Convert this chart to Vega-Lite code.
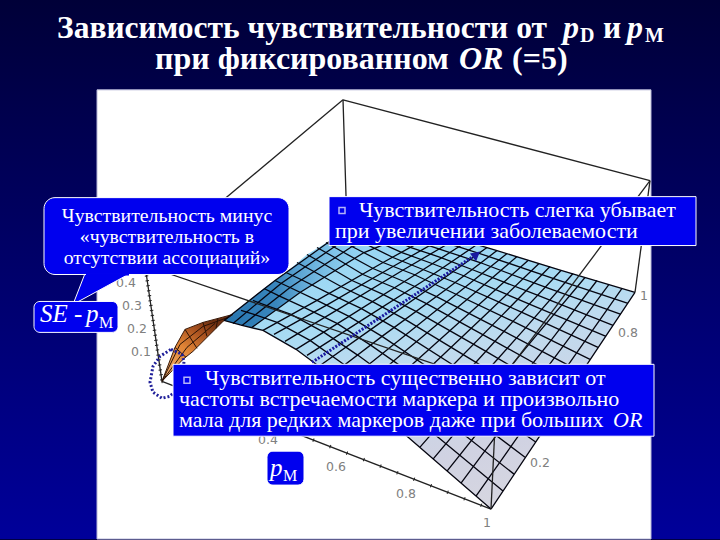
{"$schema":"https://vega.github.io/schema/vega-lite/v6.json","width":720,"height":540,"padding":0,"autosize":{"type":"fit","contains":"padding"},"background":"#000044","view":{"stroke":null},
"encoding":{"x":{"field":"x","type":"quantitative","scale":{"domain":[0,720],"nice":false,"zero":false},"axis":null},"y":{"field":"y","type":"quantitative","scale":{"domain":[540,0],"nice":false,"zero":false},"axis":null}},
"layer":[
{"data":{"values":[{"x":0,"x2":720,"y":0,"y2":540}]},"mark":{"type":"rect","fill":{"gradient":"linear","x1":0,"y1":0,"x2":0,"y2":1,"stops":[{"offset":0,"color":"#000038"},{"offset":0.5,"color":"#00006a"},{"offset":1,"color":"#00009a"}]}},"encoding":{"x2":{"field":"x2"},"y2":{"field":"y2"}}},
{"data":{"values":[{"x":97,"x2":651,"y":90,"y2":540}]},"mark":{"type":"rect","fill":"#ffffff","stroke":"#b8b8d8","strokeWidth":1},"encoding":{"x2":{"field":"x2"},"y2":{"field":"y2"}}},
{"data":{"values":[{"x":343,"y":100,"x2":348,"y2":260},{"x":343,"y":100,"x2":650,"y2":181},{"x":343,"y":100,"x2":145,"y2":266},{"x":145,"y":266,"x2":162,"y2":382},{"x":650,"y":181,"x2":635,"y2":293},{"x":162,"y":382,"x2":491,"y2":510}]},"mark":{"type":"rule","stroke":"#222222","strokeWidth":1.3},"encoding":{"x2":{"field":"x2"},"y2":{"field":"y2"}}},
{"data":{"values":[{"x":145,"y":266,"x2":162,"y2":382}]},"mark":{"type":"rule","stroke":"#222222","strokeWidth":3.5,"strokeDash":[1,4]},"encoding":{"x2":{"field":"x2"},"y2":{"field":"y2"}}},
{"data":{"values":[{"x":162,"y":382,"x2":491,"y2":510}]},"mark":{"type":"rule","stroke":"#222222","strokeWidth":3.5,"strokeDash":[1,17]},"encoding":{"x2":{"field":"x2"},"y2":{"field":"y2"}}},
{"data":{"values":[{"x":491,"y":510},{"x":407,"y":437},{"x":331,"y":376},{"x":296,"y":350},{"x":263,"y":331},{"x":242,"y":326},{"x":224,"y":321},{"x":241,"y":311},{"x":253,"y":301},{"x":264,"y":289},{"x":286,"y":273},{"x":307,"y":255},{"x":335,"y":238},{"x":366,"y":228},{"x":401,"y":222},{"x":497,"y":251},{"x":635,"y":293},{"x":491,"y":510}]},"mark":{"type":"line","filled":true,"stroke":null,"fill":{"gradient":"linear","x1":0.3,"y1":0.1,"x2":0.6,"y2":1,"stops":[{"offset":0,"color":"#98d6f4"},{"offset":0.25,"color":"#a8dbf3"},{"offset":0.42,"color":"#bedbef"},{"offset":0.6,"color":"#cad6e8"},{"offset":0.8,"color":"#d0d2e2"},{"offset":1,"color":"#d6d6e0"}]}},"encoding":{"order":{"value":null}}},
{"data":{"values":[{"x":224,"y":321},{"x":252,"y":328},{"x":300,"y":293},{"x":364,"y":253},{"x":423,"y":229},{"x":401,"y":222},{"x":335,"y":238},{"x":264,"y":289},{"x":224,"y":321}]},"mark":{"type":"line","filled":true,"stroke":null,"fill":{"gradient":"linear","x1":0,"y1":0.5,"x2":0.75,"y2":0.5,"stops":[{"offset":0,"color":"rgba(30,110,170,0.95)"},{"offset":0.35,"color":"rgba(40,120,180,0.85)"},{"offset":1,"color":"rgba(110,190,235,0)"}]}},"encoding":{"order":{"value":null}}},
{"data":{"values":[{"x":162,"y":382},{"x":175,"y":348},{"x":185,"y":330},{"x":203,"y":323},{"x":233,"y":315},{"x":223,"y":322},{"x":193,"y":352},{"x":183,"y":360},{"x":162,"y":382}]},"mark":{"type":"line","filled":true,"stroke":"#3a1a08","strokeWidth":1,"fill":{"gradient":"linear","x1":0.1,"y1":1,"x2":0.7,"y2":0.1,"stops":[{"offset":0,"color":"#f4b070"},{"offset":0.5,"color":"#e08436"},{"offset":0.78,"color":"#a9521f"},{"offset":1,"color":"#6e2f10"}]}},"encoding":{"order":{"value":null}}},
{"data":{"values":[{"l":"a","x":162,"y":382},{"l":"a","x":180,"y":345},{"l":"a","x":203,"y":327},{"l":"a","x":228,"y":318},{"l":"b","x":162,"y":382},{"l":"b","x":187,"y":348},{"l":"b","x":215,"y":324},{"l":"c","x":175,"y":348},{"l":"c","x":186,"y":358},{"l":"e","x":185,"y":330},{"l":"e","x":197,"y":349},{"l":"f","x":203,"y":323},{"l":"f","x":207,"y":337},{"l":"g","x":218,"y":319},{"l":"g","x":216,"y":329}]},"mark":{"type":"line","stroke":"#2a1206","strokeWidth":1},"encoding":{"detail":{"field":"l"},"order":{"value":null}}},
{"data":{"values":[
{"l":"d0","x":491,"y":510},{"l":"d0","x":407,"y":437},{"l":"d0","x":331,"y":376},{"l":"d0","x":296,"y":350},{"l":"d0","x":263,"y":331},{"l":"d0","x":242,"y":326},{"l":"d0","x":224,"y":321},
{"l":"d1","x":503,"y":492},{"l":"d1","x":420,"y":423},{"l":"d1","x":345,"y":366},{"l":"d1","x":310,"y":341},{"l":"d1","x":277,"y":323},{"l":"d1","x":254,"y":315},{"l":"d1","x":241,"y":311},
{"l":"d2","x":514,"y":475},{"l":"d2","x":432,"y":410},{"l":"d2","x":358,"y":356},{"l":"d2","x":324,"y":333},{"l":"d2","x":291,"y":315},{"l":"d2","x":266,"y":306},{"l":"d2","x":253,"y":301},
{"l":"d3","x":525,"y":458},{"l":"d3","x":444,"y":397},{"l":"d3","x":371,"y":346},{"l":"d3","x":337,"y":324},{"l":"d3","x":304,"y":308},{"l":"d3","x":278,"y":296},{"l":"d3","x":264,"y":289},
{"l":"d4","x":536,"y":443},{"l":"d4","x":455,"y":386},{"l":"d4","x":382,"y":337},{"l":"d4","x":349,"y":317},{"l":"d4","x":317,"y":301},{"l":"d4","x":290,"y":288},{"l":"d4","x":275,"y":281},
{"l":"d5","x":546,"y":428},{"l":"d5","x":466,"y":374},{"l":"d5","x":394,"y":328},{"l":"d5","x":361,"y":309},{"l":"d5","x":329,"y":294},{"l":"d5","x":301,"y":280},{"l":"d5","x":286,"y":273},
{"l":"d6","x":555,"y":413},{"l":"d6","x":476,"y":363},{"l":"d6","x":405,"y":320},{"l":"d6","x":372,"y":302},{"l":"d6","x":341,"y":287},{"l":"d6","x":312,"y":271},{"l":"d6","x":297,"y":263},
{"l":"d7","x":565,"y":399},{"l":"d7","x":486,"y":352},{"l":"d7","x":416,"y":312},{"l":"d7","x":383,"y":295},{"l":"d7","x":352,"y":281},{"l":"d7","x":323,"y":264},{"l":"d7","x":307,"y":255},
{"l":"d8","x":574,"y":386},{"l":"d8","x":495,"y":342},{"l":"d8","x":426,"y":304},{"l":"d8","x":394,"y":288},{"l":"d8","x":363,"y":275},{"l":"d8","x":333,"y":257},{"l":"d8","x":317,"y":248},
{"l":"d9","x":582,"y":373},{"l":"d9","x":504,"y":332},{"l":"d9","x":436,"y":297},{"l":"d9","x":404,"y":282},{"l":"d9","x":373,"y":269},{"l":"d9","x":342,"y":252},{"l":"d9","x":326,"y":243},
{"l":"d10","x":590,"y":360},{"l":"d10","x":513,"y":322},{"l":"d10","x":446,"y":290},{"l":"d10","x":414,"y":275},{"l":"d10","x":383,"y":263},{"l":"d10","x":352,"y":247},{"l":"d10","x":335,"y":238},
{"l":"d11","x":598,"y":348},{"l":"d11","x":522,"y":313},{"l":"d11","x":455,"y":283},{"l":"d11","x":423,"y":270},{"l":"d11","x":393,"y":258},{"l":"d11","x":361,"y":242},{"l":"d11","x":344,"y":234},
{"l":"d12","x":606,"y":337},{"l":"d12","x":530,"y":305},{"l":"d12","x":463,"y":276},{"l":"d12","x":432,"y":264},{"l":"d12","x":402,"y":253},{"l":"d12","x":371,"y":239},{"l":"d12","x":355,"y":231},
{"l":"d13","x":613,"y":326},{"l":"d13","x":538,"y":296},{"l":"d13","x":472,"y":270},{"l":"d13","x":441,"y":258},{"l":"d13","x":411,"y":248},{"l":"d13","x":382,"y":235},{"l":"d13","x":366,"y":228},
{"l":"d14","x":621,"y":315},{"l":"d14","x":546,"y":288},{"l":"d14","x":480,"y":263},{"l":"d14","x":450,"y":253},{"l":"d14","x":420,"y":243},{"l":"d14","x":392,"y":232},{"l":"d14","x":377,"y":226},
{"l":"d15","x":628,"y":304},{"l":"d15","x":553,"y":279},{"l":"d15","x":489,"y":257},{"l":"d15","x":458,"y":247},{"l":"d15","x":428,"y":238},{"l":"d15","x":403,"y":229},{"l":"d15","x":389,"y":224},
{"l":"d16","x":635,"y":293},{"l":"d16","x":561,"y":271},{"l":"d16","x":497,"y":251},{"l":"d16","x":467,"y":242},{"l":"d16","x":437,"y":233},{"l":"d16","x":414,"y":226},{"l":"d16","x":401,"y":222},
{"l":"c0","x":491,"y":510},{"l":"c0","x":537,"y":441},{"l":"c0","x":591,"y":359},{"l":"c0","x":635,"y":293},
{"l":"c1","x":476,"y":497},{"l":"c1","x":521,"y":433},{"l":"c1","x":577,"y":353},{"l":"c1","x":622,"y":289},
{"l":"c2","x":461,"y":484},{"l":"c2","x":507,"y":422},{"l":"c2","x":563,"y":347},{"l":"c2","x":609,"y":285},
{"l":"c3","x":447,"y":472},{"l":"c3","x":494,"y":413},{"l":"c3","x":551,"y":341},{"l":"c3","x":597,"y":281},
{"l":"c4","x":433,"y":460},{"l":"c4","x":480,"y":404},{"l":"c4","x":538,"y":334},{"l":"c4","x":585,"y":278},
{"l":"c5","x":420,"y":448},{"l":"c5","x":467,"y":394},{"l":"c5","x":526,"y":328},{"l":"c5","x":573,"y":274},
{"l":"c6","x":407,"y":437},{"l":"c6","x":455,"y":386},{"l":"c6","x":513,"y":322},{"l":"c6","x":561,"y":271},
{"l":"c7","x":394,"y":426},{"l":"c7","x":442,"y":377},{"l":"c7","x":502,"y":316},{"l":"c7","x":550,"y":267},
{"l":"c8","x":381,"y":415},{"l":"c8","x":430,"y":368},{"l":"c8","x":490,"y":311},{"l":"c8","x":539,"y":264},
{"l":"c9","x":368,"y":405},{"l":"c9","x":418,"y":360},{"l":"c9","x":478,"y":306},{"l":"c9","x":528,"y":261},
{"l":"c10","x":355,"y":395},{"l":"c10","x":405,"y":352},{"l":"c10","x":467,"y":300},{"l":"c10","x":517,"y":257},
{"l":"c11","x":343,"y":386},{"l":"c11","x":394,"y":345},{"l":"c11","x":456,"y":295},{"l":"c11","x":507,"y":254},
{"l":"c12","x":331,"y":376},{"l":"c12","x":382,"y":337},{"l":"c12","x":446,"y":290},{"l":"c12","x":497,"y":251},
{"l":"c13","x":319,"y":367},{"l":"c13","x":371,"y":330},{"l":"c13","x":435,"y":285},{"l":"c13","x":487,"y":248},
{"l":"c14","x":307,"y":356},{"l":"c14","x":360,"y":322},{"l":"c14","x":424,"y":281},{"l":"c14","x":477,"y":245},
{"l":"c15","x":296,"y":350},{"l":"c15","x":349,"y":317},{"l":"c15","x":414,"y":276},{"l":"c15","x":467,"y":242},
{"l":"c16","x":285,"y":342},{"l":"c16","x":338,"y":310},{"l":"c16","x":404,"y":270},{"l":"c16","x":457,"y":239},
{"l":"c17","x":274,"y":335},{"l":"c17","x":328,"y":305},{"l":"c17","x":393,"y":267},{"l":"c17","x":447,"y":236},
{"l":"c18","x":263,"y":331},{"l":"c18","x":317,"y":301},{"l":"c18","x":383,"y":263},{"l":"c18","x":437,"y":233},
{"l":"c19","x":252,"y":328},{"l":"c19","x":300,"y":293},{"l":"c19","x":364,"y":253},{"l":"c19","x":423,"y":229},
{"l":"c20","x":242,"y":326},{"l":"c20","x":290,"y":288},{"l":"c20","x":352,"y":247},{"l":"c20","x":414,"y":226},
{"l":"c21","x":233,"y":324},{"l":"c21","x":281,"y":284},{"l":"c21","x":342,"y":242},{"l":"c21","x":406,"y":224},
{"l":"c22","x":224,"y":321},{"l":"c22","x":275,"y":281},{"l":"c22","x":335,"y":238},{"l":"c22","x":401,"y":222}
]},"mark":{"type":"line","stroke":"#050510","strokeWidth":1.3},"encoding":{"detail":{"field":"l"},"order":{"value":null}}},
{"data":{"values":[{"x":145,"y":266,"x2":497,"y2":386},{"x":650,"y":181,"x2":497,"y2":386},{"x":497,"y":386,"x2":491,"y2":510}]},"mark":{"type":"rule","stroke":"#222222","strokeWidth":1.3},"encoding":{"x2":{"field":"x2"},"y2":{"field":"y2"}}},
{"data":{"values":[{"x":126,"y":284,"t":"0.4"},{"x":132,"y":307,"t":"0.3"},{"x":137,"y":330,"t":"0.2"},{"x":141,"y":353,"t":"0.1"},{"x":268,"y":441,"t":"0.4"},{"x":336,"y":468,"t":"0.6"},{"x":406,"y":495,"t":"0.8"},{"x":487,"y":524,"t":"1"},{"x":540,"y":464,"t":"0.2"},{"x":628,"y":334,"t":"0.8"},{"x":644,"y":297,"t":"1"}]},"mark":{"type":"text","font":"DejaVu Sans","fontSize":12.5,"fill":"#808080","align":"center","baseline":"middle"},"encoding":{"text":{"field":"t"}}},
{"data":{"values":[{"x":171,"y":350},{"x":182,"y":355},{"x":184,"y":362},{"x":182,"y":385},{"x":170,"y":397},{"x":162,"y":399},{"x":153,"y":393},{"x":150,"y":383},{"x":153,"y":367},{"x":160,"y":357},{"x":171,"y":350}]},"mark":{"type":"line","stroke":"#20209a","strokeWidth":3,"strokeDash":[2,2]},"encoding":{"order":{"value":null}}},
{"data":{"values":[{"x":312,"y":363},{"x":476,"y":255}]},"mark":{"type":"line","stroke":"#1a1aa0","strokeWidth":3,"strokeDash":[2,1.5]},"encoding":{"order":{"value":null}}},
{"data":{"values":[{"x":480,"y":252},{"x":470,"y":254},{"x":476,"y":262},{"x":480,"y":252}]},"mark":{"type":"line","filled":true,"stroke":null,"fill":"#1a1aa0"},"encoding":{"order":{"value":null}}},
{"data":{"values":[{"x":85,"y":274},{"x":73,"y":305},{"x":130,"y":274},{"x":85,"y":274}]},"mark":{"type":"line","filled":true,"stroke":"#ffffff","strokeWidth":1,"fill":"#0000ee"},"encoding":{"order":{"value":null}}},
{"data":{"values":[{"x":44,"x2":289,"y":198,"y2":275}]},"mark":{"type":"rect","fill":"#0000ee","stroke":"#ffffff","strokeWidth":1,"cornerRadius":11},"encoding":{"x2":{"field":"x2"},"y2":{"field":"y2"}}},
{"data":{"values":[{"x":86,"y":275,"x2":129,"y2":275}]},"mark":{"type":"rule","stroke":"#0000ee","strokeWidth":2},"encoding":{"x2":{"field":"x2"},"y2":{"field":"y2"}}},
{"data":{"values":[{"x":34,"x2":118,"y":302,"y2":333},{"x":267,"x2":304,"y":452,"y2":486}]},"mark":{"type":"rect","fill":"#0000ee","stroke":"#ffffff","strokeWidth":1,"cornerRadius":6},"encoding":{"x2":{"field":"x2"},"y2":{"field":"y2"}}},
{"data":{"values":[{"x":329,"x2":696,"y":197,"y2":246},{"x":173,"x2":654,"y":365,"y2":437}]},"mark":{"type":"rect","fill":"#0000ee","stroke":"#ffffff","strokeWidth":1},"encoding":{"x2":{"field":"x2"},"y2":{"field":"y2"}}},
{"data":{"values":[{"x":342,"y":211},{"x":187,"y":381}]},"mark":{"type":"point","shape":"square","size":36,"filled":false,"stroke":"#ffffff","strokeWidth":1.5}},
{"data":{"values":[{"x":57,"y":38,"t":"Зависимость чувствительности от"},{"x":603,"y":38,"t":"и"}]},"mark":{"type":"text","font":"Liberation Serif","fontWeight":"bold","fontSize":31.5,"fill":"#ffffff","align":"left","baseline":"alphabetic"},"encoding":{"text":{"field":"t"}}},
{"data":{"values":[{"x":155,"y":69,"t":"при фиксированном"},{"x":512,"y":69,"t":"(=5)"}]},"mark":{"type":"text","font":"Liberation Serif","fontWeight":"bold","fontSize":32,"fill":"#ffffff","align":"left","baseline":"alphabetic"},"encoding":{"text":{"field":"t"}}},
{"data":{"values":[{"x":563,"y":38,"t":"p"},{"x":627,"y":38,"t":"p"},{"x":459,"y":69,"t":"OR"}]},"mark":{"type":"text","font":"Liberation Serif","fontWeight":"bold","fontStyle":"italic","fontSize":32,"fill":"#ffffff","align":"left","baseline":"alphabetic"},"encoding":{"text":{"field":"t"}}},
{"data":{"values":[{"x":580,"y":42,"t":"D"},{"x":645,"y":42,"t":"M"}]},"mark":{"type":"text","font":"Liberation Serif","fontWeight":"bold","fontSize":20,"fill":"#ffffff","align":"left","baseline":"alphabetic"},"encoding":{"text":{"field":"t"}}},
{"data":{"values":[{"x":167,"y":222,"t":"Чувствительность минус"},{"x":167,"y":243,"t":"«чувствительность в"},{"x":167,"y":264,"t":"отсутствии ассоциаций»"}]},"mark":{"type":"text","font":"Liberation Serif","fontSize":19.8,"fill":"#ffffff","align":"center","baseline":"alphabetic"},"encoding":{"text":{"field":"t"}}},
{"data":{"values":[{"x":359,"y":217,"t":"Чувствительность слегка убывает"},{"x":335,"y":238,"t":"при увеличении заболеваемости"},{"x":205,"y":386,"t":"Чувствительность существенно зависит от"},{"x":179,"y":407,"t":"частоты встречаемости маркера и произвольно"},{"x":179,"y":428,"t":"мала для редких маркеров даже при больших"}]},"mark":{"type":"text","font":"Liberation Serif","fontSize":22,"fill":"#ffffff","align":"left","baseline":"alphabetic"},"encoding":{"text":{"field":"t"}}},
{"data":{"values":[{"x":613,"y":428,"t":"OR"}]},"mark":{"type":"text","font":"Liberation Serif","fontStyle":"italic","fontSize":22,"fill":"#ffffff","align":"left","baseline":"alphabetic"},"encoding":{"text":{"field":"t"}}},
{"data":{"values":[{"x":40,"y":323,"t":"SE"},{"x":86,"y":323,"t":"p"},{"x":270,"y":477,"t":"p"}]},"mark":{"type":"text","font":"Liberation Serif","fontStyle":"italic","fontSize":25,"fill":"#ffffff","align":"left","baseline":"alphabetic"},"encoding":{"text":{"field":"t"}}},
{"data":{"values":[{"x":74,"y":323,"t":"-"}]},"mark":{"type":"text","font":"Liberation Serif","fontSize":25,"fill":"#ffffff","align":"left","baseline":"alphabetic"},"encoding":{"text":{"field":"t"}}},
{"data":{"values":[{"x":99,"y":329,"t":"М"},{"x":283,"y":482,"t":"М"}]},"mark":{"type":"text","font":"Liberation Serif","fontSize":16,"fill":"#ffffff","align":"left","baseline":"alphabetic"},"encoding":{"text":{"field":"t"}}}
]}
